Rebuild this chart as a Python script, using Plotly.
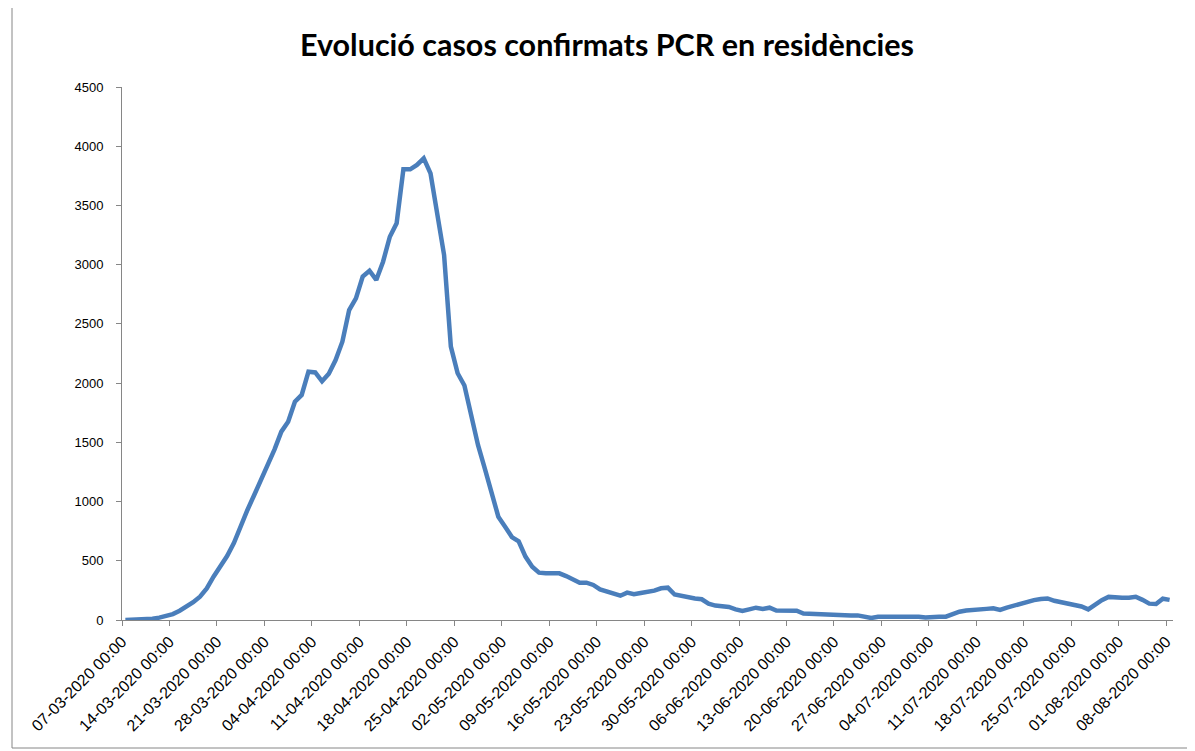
import pandas as pd
import plotly.graph_objects as go

start_date = "2020-03-07"
casos = [
    0, 2, 3, 5, 10, 20, 35, 50, 78, 110,
    150, 197, 267, 366, 456, 540, 650, 802, 929, 1055,
    1182, 1309, 1441, 1590, 1674, 1843, 1900, 2096, 2090, 2015,
    2080, 2195, 2350, 2617, 2716, 2899, 2949, 2871, 3025, 3236,
    3349, 3805, 3805, 3842, 3898, 3771, 3434, 3082, 2308, 2083,
    1980, 1717, 1478, 1281, 1070, 872, 788, 700, 665, 535,
    450, 400, 394, 394, 394, 371, 343, 315, 315, 296,
    259, 239, 225, 205, 231, 217, 228, 234, 248, 268,
    273, 215, 203, 188, 182, 175, 138, 122, 115, 110,
    90, 76, 90, 104, 93, 104, 80, 79, 79, 79,
    55, 52, 51, 51, 40, 39, 39, 39, 39, 25,
    17, 27, 28, 28, 28, 28, 28, 28, 21, 28,
    28, 28, 50, 70, 80, 82, 91, 94, 99, 85,
    105, 122, 134, 150, 168, 178, 182, 162, 150, 145,
    128, 114, 90, 130, 168, 195, 188, 188, 188, 196,
    170, 138, 135, 180, 170,
]
y_ticks = list(range(0, 4501, 500))
tick_step_days = 7

dates = pd.date_range(start_date, periods=len(casos), freq="D")
# each day is drawn at the middle of its category slot, as in the original
x_pos = dates + pd.Timedelta(hours=12)
tick_dates = dates[::tick_step_days]
tick_text = [d.strftime("%d-%m-%Y 00:00") for d in tick_dates]

fig = go.Figure()
fig.add_trace(go.Scatter(
    x=x_pos, y=casos, mode="lines",
    line=dict(color="#4A7EBB", width=4.5),
    hoverinfo="x+y", showlegend=False,
))

# the page body has an 8px margin, so the figure starts at (8, 8)
OFF = 8
W, H = 1195 - OFF, 751 - OFF
L, R, T, B = 122 - OFF, 22, 87 - OFF, 131
pw, ph = W - L - R, H - T - B

def px_to_paper_x(px):
    return (px - OFF - L) / pw

def px_to_paper_y(py):
    return (H - B - (py - OFF)) / ph

fig.update_layout(
    width=W, height=H,
    margin=dict(l=L, r=R, t=T, b=B, autoexpand=False),
    paper_bgcolor="white", plot_bgcolor="white",
    title=dict(
        text="<b>Evolució casos confirmats PCR en residències</b>",
        x=(607 - OFF) / W, xanchor="center", xref="container",
        y=1 - (45 - OFF) / H, yanchor="middle", yref="container",
        font=dict(family="Lato, Liberation Sans, sans-serif", size=30.5, color="#000000"),
    ),
    xaxis=dict(
        type="date",
        range=[dates[0], dates[-1] + pd.Timedelta(days=1)],
        tickmode="array", tickvals=tick_dates, ticktext=tick_text,
        tickangle=-45,
        ticks="outside", ticklen=5, tickcolor="#868686", tickwidth=1,
        showline=True, linecolor="#868686", linewidth=1,
        showgrid=False, zeroline=False,
        tickfont=dict(family="Liberation Sans, Arial, sans-serif", size=16, color="#000000"),
    ),
    yaxis=dict(
        range=[0, 4500],
        tickmode="array", tickvals=y_ticks,
        ticks="outside", ticklen=5, tickcolor="#868686", tickwidth=1,
        showline=True, linecolor="#868686", linewidth=1,
        showgrid=False, zeroline=False,
        ticklabelstandoff=10,
        tickfont=dict(family="Liberation Sans, Arial, sans-serif", size=13, color="#000000"),
    ),
    shapes=[dict(
        type="rect", xref="paper", yref="paper",
        x0=px_to_paper_x(12), x1=px_to_paper_x(1190),
        y0=px_to_paper_y(748), y1=px_to_paper_y(1),
        line=dict(color="#868686", width=1), fillcolor="rgba(0,0,0,0)",
        layer="below",
    )],
)

fig.write_html("out.html")
